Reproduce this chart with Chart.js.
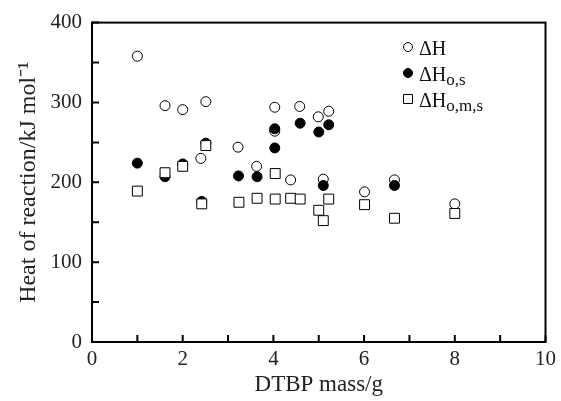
<!DOCTYPE html>
<html><head><meta charset="utf-8">
<script src="https://cdn.jsdelivr.net/npm/chart.js@4"></script>
<style>html,body{margin:0;padding:0;background:#fff}#wrap{width:561px;height:401px;position:relative}</style>
</head><body><div id="wrap"><canvas id="c" width="561" height="401"></canvas></div>
<script>
// ΔH (open circles)
const xH = [1.0, 1.61, 2.0, 2.4, 2.51, 3.22, 3.63, 4.03, 4.03, 4.38, 4.58, 4.99, 5.1, 5.22, 6.01, 6.67, 8.0];
const yH = [358, 296, 291, 230, 301, 244, 220, 294, 264, 203, 295, 282, 204, 289, 188, 203, 173];
// ΔHo,s (filled circles)
const xHos = [1.0, 1.61, 2.0, 2.42, 2.51, 3.23, 3.64, 4.03, 4.03, 4.59, 5.0, 5.1, 5.22, 6.67];
const yHos = [224, 207, 223, 176, 249, 208, 207, 267, 243, 274, 263, 196, 272, 196];
// ΔHo,m,s (open squares)
const xHoms = [1.0, 1.61, 2.0, 2.51, 2.42, 3.24, 3.64, 4.04, 4.04, 4.38, 4.59, 5.0, 5.1, 5.22, 6.01, 6.67, 8.0];
const yHoms = [189, 212, 220, 246, 173, 175, 180, 179, 211, 180, 179, 165, 152, 179, 172, 155, 161];
const xTicks = [0, 1, 2, 3, 4, 5, 6, 7, 8, 9, 10];
const yTicks = [0, 50, 100, 150, 200, 250, 300, 350, 400];
const legendLabels = [["ΔH", ""], ["ΔH", "o,s"], ["ΔH", "o,m,s"]];

const FONT = '"Liberation Serif", "Times New Roman", serif';
const pts = (xs, ys) => xs.map((x, i) => ({x: x, y: ys[i]}));

const framePlugin = {
  id: 'frame',
  afterDraw(chart) {
    const ctx = chart.ctx, a = chart.chartArea;
    const xs = chart.scales.x, ys = chart.scales.y;
    ctx.save();
    ctx.strokeStyle = '#000';
    ctx.lineWidth = 2;
    ctx.strokeRect(a.left, a.top, a.right - a.left, a.bottom - a.top);
    ctx.beginPath();
    xTicks.forEach(v => { const p = xs.getPixelForValue(v); ctx.moveTo(p, a.bottom); ctx.lineTo(p, a.bottom - 7); });
    yTicks.forEach(v => { const p = ys.getPixelForValue(v); ctx.moveTo(a.left, p); ctx.lineTo(a.left + 7, p); });
    ctx.stroke();
    // legend
    const lx = a.left + 316, ly = [47, 73, 99];
    ctx.lineWidth = 1;
    ly.forEach((y, i) => {
      ctx.beginPath();
      if (i === 2) { ctx.rect(lx - 4.5, y - 4.5, 9, 9); ctx.fillStyle = '#fff'; ctx.fill(); ctx.stroke(); }
      else { ctx.arc(lx, y, 4.5, 0, Math.PI * 2); ctx.fillStyle = i === 1 ? '#000' : '#fff'; ctx.fill(); ctx.stroke(); }
      ctx.fillStyle = '#111';
      ctx.textBaseline = 'alphabetic';
      ctx.font = '20px ' + FONT;
      const tx = lx + 11;
      ctx.fillText(legendLabels[i][0], tx, y + 8);
      const w = ctx.measureText(legendLabels[i][0]).width;
      ctx.font = '17px ' + FONT;
      ctx.fillText(legendLabels[i][1], tx + w, y + 12);
    });
    ctx.restore();
  }
};

new Chart(document.getElementById('c'), {
  type: 'scatter',
  data: {
    datasets: [
      {label: 'ΔH', data: pts(xH, yH), pointStyle: 'circle', pointRadius: 5, pointHoverRadius: 5, backgroundColor: '#fff', borderColor: '#000', borderWidth: 1, order: 3},
      {label: 'ΔHo,s', data: pts(xHos, yHos), pointStyle: 'circle', pointRadius: 5, pointHoverRadius: 5, backgroundColor: '#000', borderColor: '#000', borderWidth: 1, order: 2},
      {label: 'ΔHo,m,s', data: pts(xHoms, yHoms), pointStyle: 'rect', pointRadius: 7, pointHoverRadius: 7, backgroundColor: '#fff', borderColor: '#000', borderWidth: 1, order: 1}
    ]
  },
  options: {
    responsive: false,
    animation: false,
    layout: {padding: {top: 19, right: 15, left: 0, bottom: 0}},
    plugins: {legend: {display: false}, tooltip: {enabled: false}},
    scales: {
      x: {
        type: 'linear', min: 0, max: 10,
        afterFit(s) { s.height = 59; },
        afterBuildTicks(s) { s.ticks = xTicks.map(v => ({value: v})); },
        grid: {display: false, drawTicks: false},
        border: {display: false},
        ticks: {autoSkip: false, maxRotation: 0, padding: 5, color: '#222', font: {family: FONT, size: 21},
          callback: v => (v % 2 === 0 ? String(v) : '')},
        title: {display: true, text: 'DTBP mass/g', color: '#222', font: {family: FONT, size: 23}, padding: {top: 0, bottom: 2}}
      },
      y: {
        type: 'linear', min: 0, max: 400,
        afterFit(s) { s.width = 92; },
        afterBuildTicks(s) { s.ticks = yTicks.map(v => ({value: v})); },
        grid: {display: false, drawTicks: false},
        border: {display: false},
        ticks: {autoSkip: false, padding: 10, color: '#222', font: {family: FONT, size: 21},
          callback: v => (v % 100 === 0 ? String(v) : '')},
        title: {display: true, text: 'Heat of reaction/kJ mol⁻¹', color: '#222', font: {family: FONT, size: 24}, padding: {top: 14, bottom: 0}}
      }
    }
  },
  plugins: [framePlugin]
});
</script>
</body></html>
